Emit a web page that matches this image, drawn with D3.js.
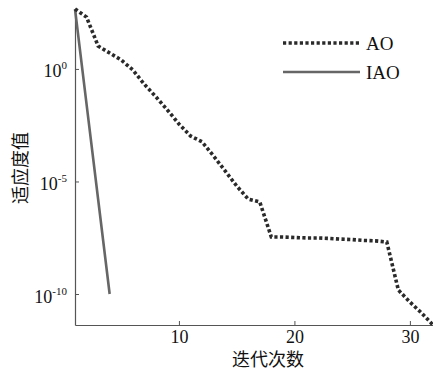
<!DOCTYPE html>
<html><head><meta charset="utf-8">
<script src="https://cdn.jsdelivr.net/npm/d3@7"></script>
<style>html,body{margin:0;padding:0;background:#fff;}svg{display:block;}</style>
</head><body>
<svg id="chart" width="433" height="376"></svg>
<script>
// iterations
const iterAO = [1,2,3,4,5,6,7,8,9,10,11,12,13,14,15,16,17,18,19,20,21,22,23,24,25,26,27,28,29,30,31,32];
const valuesAO = [4.6e2,2.0e2,1.05e1,5.1,2.5,0.91,0.21,5.8e-2,1.5e-2,3.6e-3,1.05e-3,5.8e-4,1.35e-4,2.95e-5,6.3e-6,1.66e-6,1.23e-6,3.4e-8,3.4e-8,3.24e-8,3.1e-8,3.1e-8,2.95e-8,2.75e-8,2.63e-8,2.4e-8,2.3e-8,2.04e-8,1.5e-10,4.4e-11,1.45e-11,4.2e-12];
const iterIAO = [1,2,3,4];
const valuesIAO = [4.6e2,2.75e-2,1.66e-6,1.0e-10];
const xTicks = [10,20,30];
const yTicks = [1e0,1e-5,1e-10];
const yTickExp = ["0","-5","-10"];
const seriesNames = ["AO","IAO"];
const xTitle = "迭代次数";
const yTitle = "适应度值";

const svg = d3.select("#chart");
const x = d3.scaleLinear().domain([1,32]).range([75,433]);
const y = d3.scaleLog().domain([4.2e-12,4.6e2]).range([325,9]);
const serif = "'Liberation Serif','Times New Roman',serif";
const cjk = "'Noto Sans CJK SC','Noto Sans CJK JP',sans-serif";
const axisColor = "#555";

// x axis
const xAxis = svg.append("g").attr("transform","translate(0,325)")
  .call(d3.axisBottom(x).tickValues(xTicks).tickSizeInner(-4).tickSizeOuter(0).tickPadding(5));
xAxis.select(".domain").attr("stroke",axisColor).attr("stroke-width",1.2);
xAxis.selectAll(".tick line").attr("stroke",axisColor);
xAxis.selectAll(".tick text").attr("font-family",serif).attr("font-size",18).attr("fill","#111");

// y axis
const yAxis = svg.append("g").attr("transform","translate(75,0)")
  .call(d3.axisLeft(y).tickValues(yTicks).tickSizeInner(-4).tickSizeOuter(0).tickFormat(""));
yAxis.select(".domain").attr("stroke",axisColor).attr("stroke-width",1.2);
yAxis.selectAll(".tick line").attr("stroke",axisColor);
yAxis.selectAll(".tick").each(function(d,i){
  const t = d3.select(this).append("text")
    .attr("x",-8).attr("y",8)
    .attr("text-anchor","end")
    .attr("font-family",serif).attr("font-size",18).attr("fill","#111");
  t.append("tspan").text("10");
  t.append("tspan").attr("font-size",11).attr("dy",-8).text(yTickExp[i]);
});

// titles
svg.append("text").attr("x",268).attr("y",366).attr("text-anchor","middle")
  .attr("font-family",cjk).attr("font-size",18).attr("fill","#111").text(xTitle);
svg.append("text").attr("transform","translate(27,168) rotate(-90)").attr("text-anchor","middle")
  .attr("font-family",cjk).attr("font-size",18).attr("fill","#111").text(yTitle);

// lines
const line = d3.line().x(d=>x(d[0])).y(d=>y(d[1]));
const dataIAO = iterIAO.map((v,i)=>[v,valuesIAO[i]]);
const dataAO = iterAO.map((v,i)=>[v,valuesAO[i]]);
svg.append("path").datum(dataIAO).attr("d",line).attr("fill","none")
  .attr("stroke","#666").attr("stroke-width",2.6);
svg.append("path").datum(dataAO).attr("d",line).attr("fill","none")
  .attr("stroke","#2a2a2a").attr("stroke-width",3.6).attr("stroke-dasharray","3.2,2.4");

// legend
const legY = [43,72];
const styles = [
  {stroke:"#2a2a2a",width:3.6,dash:"3.2,2.4"},
  {stroke:"#666",width:2.6,dash:null}
];
seriesNames.forEach((n,i)=>{
  svg.append("line").attr("x1",283).attr("x2",360).attr("y1",legY[i]).attr("y2",legY[i])
    .attr("stroke",styles[i].stroke).attr("stroke-width",styles[i].width)
    .attr("stroke-dasharray",styles[i].dash);
  svg.append("text").attr("x",366).attr("y",legY[i]+6.5)
    .attr("font-family",serif).attr("font-size",19).attr("fill","#111").text(n);
});
</script>
</body></html>
